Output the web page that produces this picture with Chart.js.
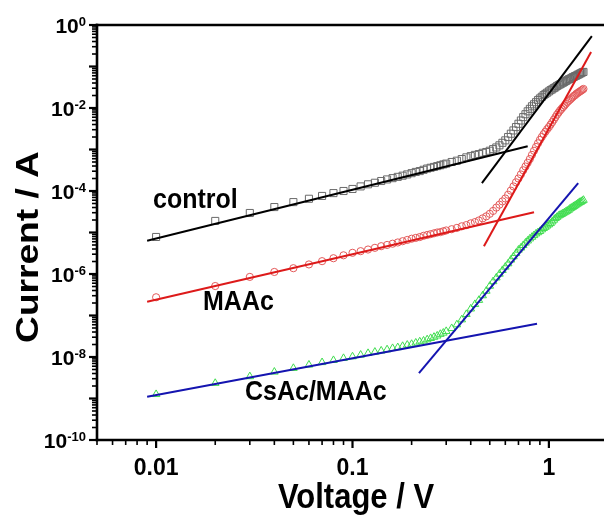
<!DOCTYPE html>
<html>
<head>
<meta charset="utf-8">
<script src="https://cdn.jsdelivr.net/npm/chart.js@4.4.1/dist/chart.umd.min.js"></script>
<style>
html,body{margin:0;padding:0;background:#fff;overflow:hidden;width:604px;height:515px;}
#wrap{position:relative;width:620px;height:515px;}
</style>
</head>
<body>
<div id="wrap"><canvas id="c" width="620" height="515"></canvas></div>
<script>
// ---- data ----
const voltage = [
0.01,0.02,0.03,0.04,0.05,0.06,0.07,0.08,0.09,0.10,
0.11,0.12,0.13,0.14,0.15,0.16,0.17,0.18,0.19,0.20,
0.21,0.22,0.23,0.24,0.25,0.26,0.27,0.28,0.29,0.30,
0.32,0.34,0.36,0.38,0.40,0.42,0.44,0.46,0.48,0.50,
0.52,0.54,0.56,0.58,0.60,0.62,0.64,0.66,0.68,0.70,
0.72,0.74,0.76,0.78,0.80,0.82,0.84,0.86,0.88,0.90,
0.92,0.94,0.96,0.98,1.00,1.02,1.04,1.06,1.08,1.10,
1.12,1.14,1.16,1.18,1.20,1.22,1.24,1.26,1.28,1.30,
1.32,1.34,1.36,1.38,1.40,1.42,1.44,1.46,1.48,1.50];

const controlCurrent = [
7.8e-6,1.9e-5,2.95e-5,4.1e-5,5.4e-5,6.5e-5,7.6e-5,8.9e-5,1.0e-4,1.12e-4,
1.29e-4,1.45e-4,1.58e-4,1.74e-4,1.9e-4,2.04e-4,2.19e-4,2.34e-4,2.51e-4,2.69e-4,
2.88e-4,3.02e-4,3.24e-4,3.47e-4,3.63e-4,3.8e-4,3.98e-4,4.17e-4,4.37e-4,4.57e-4,
5.0e-4,5.37e-4,5.89e-4,6.46e-4,6.92e-4,7.41e-4,7.76e-4,8.32e-4,8.71e-4,9.33e-4,
1.02e-3,1.12e-3,1.26e-3,1.45e-3,1.66e-3,2.0e-3,2.4e-3,2.88e-3,3.47e-3,4.17e-3,
5.0e-3,6.03e-3,7.08e-3,8.32e-3,9.55e-3,1.1e-2,1.23e-2,1.38e-2,1.55e-2,1.7e-2,
1.86e-2,2.04e-2,2.19e-2,2.34e-2,2.51e-2,2.69e-2,2.82e-2,3.02e-2,3.16e-2,3.39e-2,
3.55e-2,3.72e-2,3.89e-2,4.07e-2,4.27e-2,4.47e-2,4.68e-2,4.9e-2,5.01e-2,5.25e-2,
5.5e-2,5.62e-2,5.89e-2,6.03e-2,6.31e-2,6.46e-2,6.76e-2,6.92e-2,7.24e-2,7.41e-2];

const maacCurrent = [
2.75e-7,5.13e-7,8.51e-7,1.12e-6,1.38e-6,1.70e-6,2.04e-6,2.40e-6,2.82e-6,3.24e-6,
3.55e-6,3.89e-6,4.27e-6,4.68e-6,5.01e-6,5.37e-6,5.75e-6,6.17e-6,6.61e-6,7.08e-6,
7.41e-6,7.76e-6,8.32e-6,8.71e-6,9.12e-6,9.55e-6,1.0e-5,1.02e-5,1.07e-5,1.12e-5,
1.20e-5,1.29e-5,1.41e-5,1.51e-5,1.66e-5,1.78e-5,1.95e-5,2.19e-5,2.45e-5,2.82e-5,
3.31e-5,3.98e-5,4.68e-5,5.62e-5,6.61e-5,8.13e-5,1.02e-4,1.29e-4,1.62e-4,2.0e-4,
2.51e-4,3.16e-4,3.89e-4,4.79e-4,5.89e-4,7.41e-4,9.33e-4,1.15e-3,1.41e-3,1.70e-3,
2.0e-3,2.34e-3,2.69e-3,3.09e-3,3.47e-3,3.98e-3,4.57e-3,5.25e-3,6.03e-3,6.92e-3,
7.76e-3,8.71e-3,9.55e-3,1.05e-2,1.15e-2,1.26e-2,1.38e-2,1.48e-2,1.58e-2,1.70e-2,
1.82e-2,1.95e-2,2.04e-2,2.19e-2,2.29e-2,2.40e-2,2.51e-2,2.63e-2,2.75e-2,2.88e-2];

const csacCurrent = [
1.26e-9,2.34e-9,3.39e-9,4.37e-9,5.37e-9,6.46e-9,7.41e-9,8.32e-9,9.33e-9,1.02e-8,
1.12e-8,1.23e-8,1.32e-8,1.41e-8,1.51e-8,1.62e-8,1.70e-8,1.82e-8,1.95e-8,2.04e-8,
2.19e-8,2.34e-8,2.45e-8,2.63e-8,2.82e-8,3.02e-8,3.24e-8,3.55e-8,3.80e-8,4.17e-8,
4.90e-8,6.03e-8,7.94e-8,1.07e-7,1.45e-7,1.86e-7,2.34e-7,3.02e-7,3.89e-7,5.13e-7,
6.61e-7,8.13e-7,1.0e-6,1.23e-6,1.48e-6,1.78e-6,2.19e-6,2.63e-6,3.16e-6,3.80e-6,
4.27e-6,4.90e-6,5.62e-6,6.31e-6,7.08e-6,7.76e-6,8.51e-6,9.33e-6,1.0e-5,1.07e-5,
1.17e-5,1.26e-5,1.35e-5,1.45e-5,1.55e-5,1.66e-5,1.82e-5,2.0e-5,2.19e-5,2.34e-5,
2.51e-5,2.63e-5,2.75e-5,2.88e-5,3.02e-5,3.16e-5,3.31e-5,3.47e-5,3.72e-5,3.89e-5,
4.07e-5,4.27e-5,4.47e-5,4.68e-5,4.90e-5,5.13e-5,5.37e-5,5.50e-5,5.75e-5,6.03e-5];

// fitted straight lines (end points)
const fitControlLowV  = [0.009, 0.78];  const fitControlLowI  = [6.3e-6, 1.2e-3];
const fitControlHighV = [0.456, 1.655]; const fitControlHighI = [1.55e-4, 0.54];
const fitMaacLowV     = [0.009, 0.84];  const fitMaacLowI     = [2.14e-7, 3.09e-5];
const fitMaacHighV    = [0.467, 1.64];  const fitMaacHighI    = [4.68e-6, 0.224];
const fitCsacLowV     = [0.009, 0.87];  const fitCsacLowI     = [1.1e-9, 6.31e-8];
const fitCsacHighV    = [0.218, 1.41];  const fitCsacHighI    = [4.07e-9, 1.55e-4];

const seriesNames = ['control', 'MAAc', 'CsAc/MAAc'];
const xTickValues = [0.01, 0.1, 1];
const xTickLabels = ['0.01', '0.1', '1'];
const yTickValues = [1, 1e-2, 1e-4, 1e-6, 1e-8, 1e-10];
const yTickExps   = ['0', '-2', '-4', '-6', '-8', '-10'];
const xTitle = 'Voltage / V';
const yTitle = 'Current / A';

// ---- build chart ----
const pts = (xs, ys) => xs.map((x, i) => ({x: x, y: ys[i]}));
const FONT = '"Liberation Sans", Arial, sans-serif';

function fitLine(xs, ys, color) {
  return {data: pts(xs, ys), showLine: true, borderColor: color, borderWidth: 2,
          pointRadius: 0, fill: false, order: 0};
}
function marks(ys, color, style, r) {
  return {data: pts(voltage, ys), showLine: false, pointStyle: style, pointRadius: r,
          borderColor: color, backgroundColor: 'rgba(0,0,0,0)', pointBorderWidth: 1, order: 1};
}

function stretchedText(ctx, text, x, y, font, align, sy) {
  ctx.save();
  ctx.translate(x, y);
  ctx.scale(1, sy);
  ctx.font = font; ctx.textAlign = align; ctx.textBaseline = 'alphabetic';
  ctx.fillText(text, 0, 0);
  ctx.restore();
}

const bgPlugin = {
  id: 'bg',
  beforeDraw(chart) {
    const ctx = chart.ctx;
    ctx.save(); ctx.fillStyle = '#fff'; ctx.fillRect(0, 0, chart.width, chart.height); ctx.restore();
  }
};

const axesPlugin = {
  id: 'axesDraw',
  afterDraw(chart) {
    const ctx = chart.ctx, a = chart.chartArea, xs = chart.scales.x, ys = chart.scales.y;
    ctx.save();
    ctx.strokeStyle = '#000'; ctx.fillStyle = '#000';
    const seg = (x1, y1, x2, y2, w) => { ctx.lineWidth = w; ctx.beginPath(); ctx.moveTo(x1, y1); ctx.lineTo(x2, y2); ctx.stroke(); };
    // frame
    seg(a.left, a.top - 1.25, a.left, a.bottom + 1.25, 2.6);
    seg(a.left - 1.25, a.bottom, chart.width, a.bottom, 2.6);
    seg(a.left - 1.25, a.top, chart.width, a.top, 2.6);
    // y ticks
    for (let d = -10; d <= 0; d++) {
      for (let k = 1; k <= 9; k++) {
        const v = k * Math.pow(10, d);
        if (v > 1) break;
        const py = ys.getPixelForValue(v);
        if (k === 1) seg(a.left - 8, py, a.left, py, 2.2); else seg(a.left - 5, py, a.left, py, 1.6);
      }
    }
    // x ticks
    for (let d = -3; d <= 0; d++) {
      for (let k = 1; k <= 9; k++) {
        const v = k * Math.pow(10, d);
        if (v < xs.min - 1e-12 || v > xs.max + 1e-12) continue;
        const px = xs.getPixelForValue(v);
        if (k === 1) seg(px, a.bottom, px, a.bottom + 8, 2.2); else seg(px, a.bottom, px, a.bottom + 5, 1.6);
      }
    }
    // y tick labels
    yTickValues.forEach((v, i) => {
      const py = ys.getPixelForValue(v);
      ctx.font = 'bold 13px ' + FONT;
      const supW = ctx.measureText(yTickExps[i]).width;
      ctx.textAlign = 'right'; ctx.textBaseline = 'alphabetic';
      ctx.fillText(yTickExps[i], 86, py + 0.5);
      ctx.font = 'bold 21px ' + FONT;
      ctx.fillText('10', 86 - supW, py + 7.5);
    });
    // x tick labels
    xTickValues.forEach((v, i) => {
      const px = xs.getPixelForValue(v);
      ctx.font = 'bold 23px ' + FONT; ctx.textAlign = 'center'; ctx.textBaseline = 'alphabetic';
      ctx.fillText(xTickLabels[i], px, 475);
    });
    // axis titles
    stretchedText(ctx, xTitle, 356, 508, 'bold 31px ' + FONT, 'center', 1.13);
    ctx.save();
    ctx.translate(38, 247);
    ctx.rotate(-Math.PI / 2);
    ctx.scale(1.16, 1);
    ctx.font = 'bold 32px ' + FONT; ctx.textAlign = 'center'; ctx.textBaseline = 'alphabetic';
    ctx.fillText(yTitle, 0, 0);
    ctx.restore();
    // series labels
    stretchedText(ctx, seriesNames[0], 153, 208, 'bold 25px ' + FONT, 'left', 1.1);
    stretchedText(ctx, seriesNames[1], 203, 310, 'bold 25px ' + FONT, 'left', 1.1);
    stretchedText(ctx, seriesNames[2], 245, 400, 'bold 25px ' + FONT, 'left', 1.1);
    ctx.restore();
  }
};

new Chart(document.getElementById('c'), {
  type: 'scatter',
  data: {
    datasets: [
      fitLine(fitControlLowV, fitControlLowI, '#000000'),
      fitLine(fitControlHighV, fitControlHighI, '#000000'),
      fitLine(fitMaacLowV, fitMaacLowI, '#dd1a1a'),
      fitLine(fitMaacHighV, fitMaacHighI, '#dd1a1a'),
      fitLine(fitCsacLowV, fitCsacLowI, '#1414b0'),
      fitLine(fitCsacHighV, fitCsacHighI, '#1414b0'),
      marks(controlCurrent, '#6a6a6a', 'rect', 5),
      marks(maacCurrent, '#e45a5a', 'circle', 3.6),
      marks(csacCurrent, '#40dd50', 'triangle', 4.4)
    ]
  },
  options: {
    responsive: false,
    animation: false,
    devicePixelRatio: 1,
    layout: {padding: {left: 97, top: 25, right: 12, bottom: 75}},
    plugins: {legend: {display: false}, tooltip: {enabled: false}, title: {display: false}},
    scales: {
      x: {type: 'logarithmic', min: 0.005, max: 2, display: false},
      y: {type: 'logarithmic', min: 1e-10, max: 1, display: false}
    }
  },
  plugins: [bgPlugin, axesPlugin]
});
</script>
</body>
</html>
